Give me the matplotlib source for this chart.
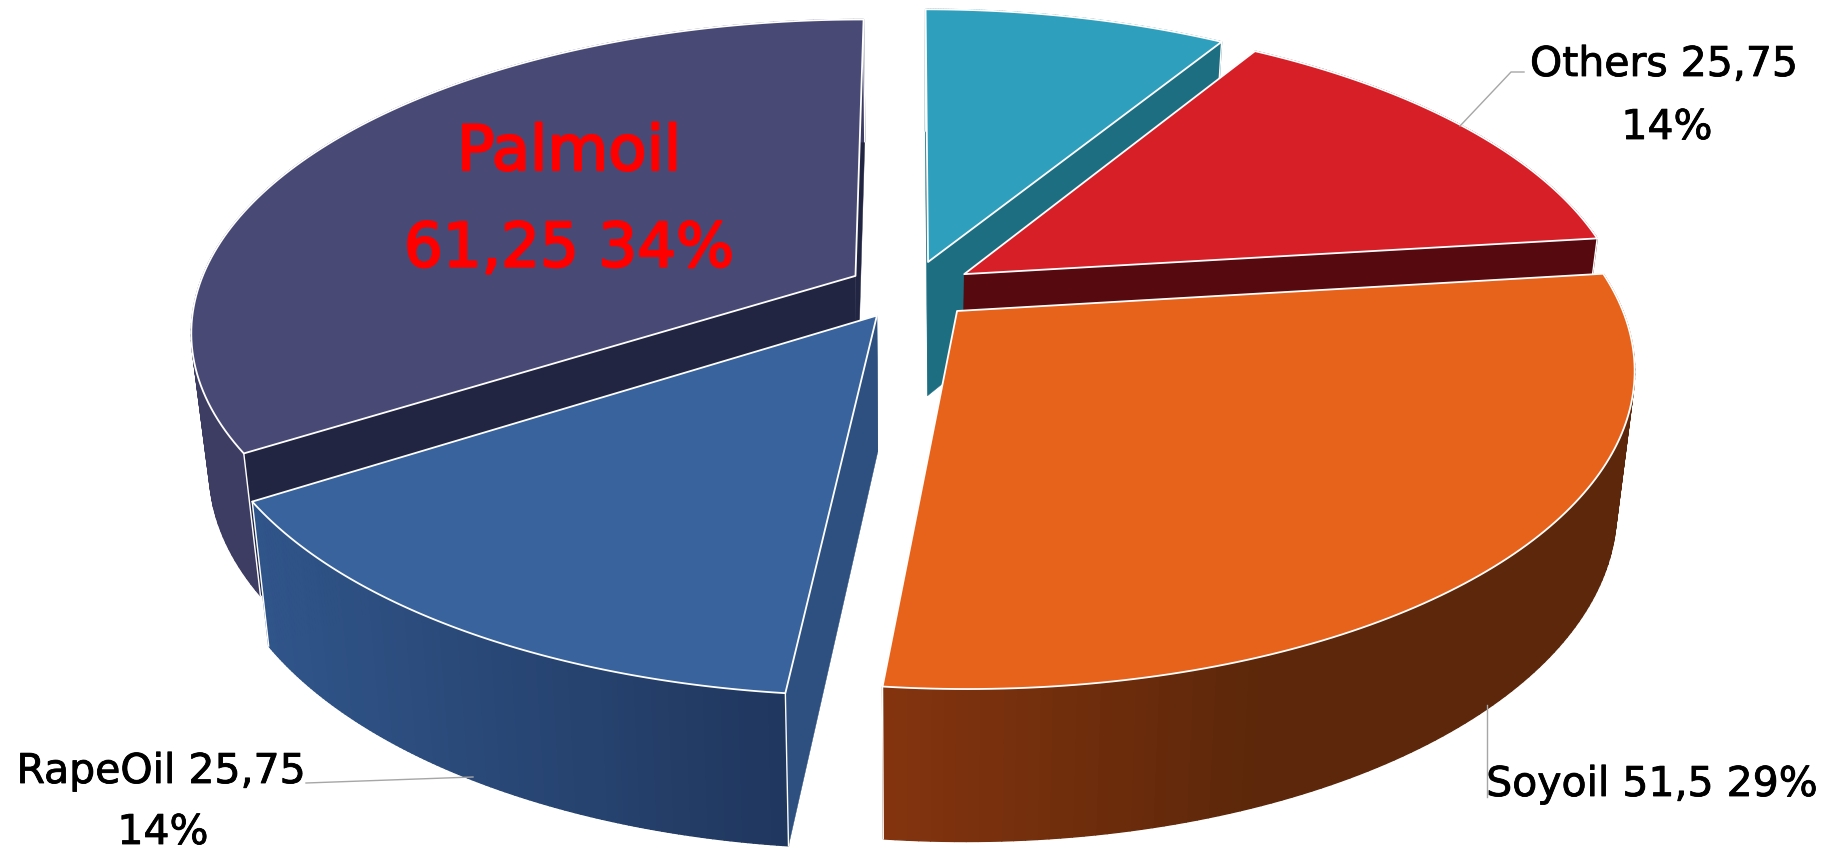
import numpy as np
import matplotlib
matplotlib.use('Agg')
import matplotlib.pyplot as plt
import matplotlib.patheffects as pe
from matplotlib.collections import PolyCollection
from matplotlib.colors import to_rgb
from matplotlib.patches import Polygon

#data, clockwise from twelve o'clock
names=['','Others','Soyoil','RapeOil','Palmoil']
values=[15.75,25.75,51.5,25.75,61.25]
topColors=['#2e9fbc','#d71f27','#e7631b','#38639c','#484a75']
sideColors=['#1e6e82','#560a10','#2d5080','#2d5080','#222541']
wallLeft=['#1e6e82','#560a10','#83340e','#30558a','#3d3d63']
wallRight=['#1e6e82','#560a10','#5c270a','#20375e','#3d3d63']
drawOrder=[0,4,1,3,2]

#projection of the tilted disc, in pixels
cx,cy=911,290
A,B,k=658,305,0.172
explode=0.097
D0=135
shrink=0.975

def project(X,Y):
    w=1+k*Y
    return cx+A*X/w,cy-B*Y/w

def bottom(X,Y):
    w=1+k*Y
    sx,sy=project(X,Y)
    return cx+(sx-cx)*shrink,sy+D0/(w**0.6)

def rimPoints(th,mid):
    X=explode*np.sin(mid)+np.sin(th)
    Y=explode*np.cos(mid)+np.cos(th)
    return X,Y

fig=plt.figure(figsize=(18.31,8.52),dpi=100)
ax=fig.add_axes([0,0,1,1])
ax.set_xlim(0,1831)
ax.set_ylim(852,0)
ax.axis('off')

edges=np.concatenate([[0],np.cumsum(values)])/np.sum(values)*2*np.pi

z=1
for i in drawOrder:
    a0,a1=edges[i],edges[i+1]
    mid=(a0+a1)/2
    th=np.linspace(a0,a1,120)
    X,Y=rimPoints(th,mid)
    ox,oy=explode*np.sin(mid),explode*np.cos(mid)
    tx,ty=project(X,Y)
    bx,by=bottom(X,Y)
    apexT=project(ox,oy)
    apexB=bottom(ox,oy)
    #radial walls first
    for j in (0,-1):
        ax.add_patch(Polygon([apexT,(tx[j],ty[j]),(bx[j],by[j]),apexB],closed=True,
                             facecolor=sideColors[i],edgecolor=sideColors[i],lw=0.3,zorder=z))
    #outer wall as strips, so it can carry the gradient
    quads=[]
    cols=[]
    left=np.array(to_rgb(wallLeft[i]))
    right=np.array(to_rgb(wallRight[i]))
    xs=np.minimum(bx[:-1],bx[1:])
    xa,xb=xs.min(),xs.max()
    for n in range(len(th)-1):
        quads.append([(tx[n],ty[n]),(tx[n+1],ty[n+1]),(bx[n+1],by[n+1]),(bx[n],by[n])])
        f=(xs[n]-xa)/max(xb-xa,1)
        if i==2:
            f=min(f*2.0,1.0)
        cols.append(left+(right-left)*f)
    ax.add_collection(PolyCollection(quads,facecolors=cols,edgecolors=cols,linewidths=1.0,zorder=z+1))
    #white corner lines
    for j in (0,-1):
        ax.plot([tx[j],bx[j]],[ty[j],by[j]],color='white',lw=1.0,zorder=z+2)
    #top face
    ax.add_patch(Polygon(np.vstack([[apexT],np.column_stack([tx,ty])]),closed=True,
                         facecolor=topColors[i],edgecolor='white',lw=1.3,joinstyle='round',zorder=z+3))
    z+=4

#leader lines
lineColor='#a6a6a6'
ax.plot([1460,1511,1524],[126,72,72],color=lineColor,lw=1,zorder=z)
ax.plot([306,473],[783,777],color=lineColor,lw=1,zorder=z)
ax.plot([1487,1487],[705,797],color=lineColor,lw=1,zorder=z)

plt.rcParams['font.family']=['DejaVu Sans']
fs=29.5
thick=[pe.withStroke(linewidth=0.6,foreground='black')]
thickRed=[pe.withStroke(linewidth=1.6,foreground='#ff0000')]
ax.text(1664,65,'Others 25,75',fontsize=fs,ha='center',va='center',path_effects=thick,zorder=z)
ax.text(1667,128,'14%',fontsize=fs,ha='center',va='center',path_effects=thick,zorder=z)
ax.text(161,772,'RapeOil 25,75',fontsize=fs,ha='center',va='center',path_effects=thick,zorder=z)
ax.text(163,833,'14%',fontsize=fs,ha='center',va='center',path_effects=thick,zorder=z)
ax.text(1652,785,'Soyoil 51,5 29%',fontsize=fs,ha='center',va='center',path_effects=thick,zorder=z)
ax.text(569,153,'Palmoil',fontsize=45,color='#ff0000',ha='center',va='center',path_effects=thickRed,zorder=z)
ax.text(569,250,'61,25 34%',fontsize=44,color='#ff0000',ha='center',va='center',path_effects=thickRed,zorder=z)

fig.savefig('out.png',dpi=100)
